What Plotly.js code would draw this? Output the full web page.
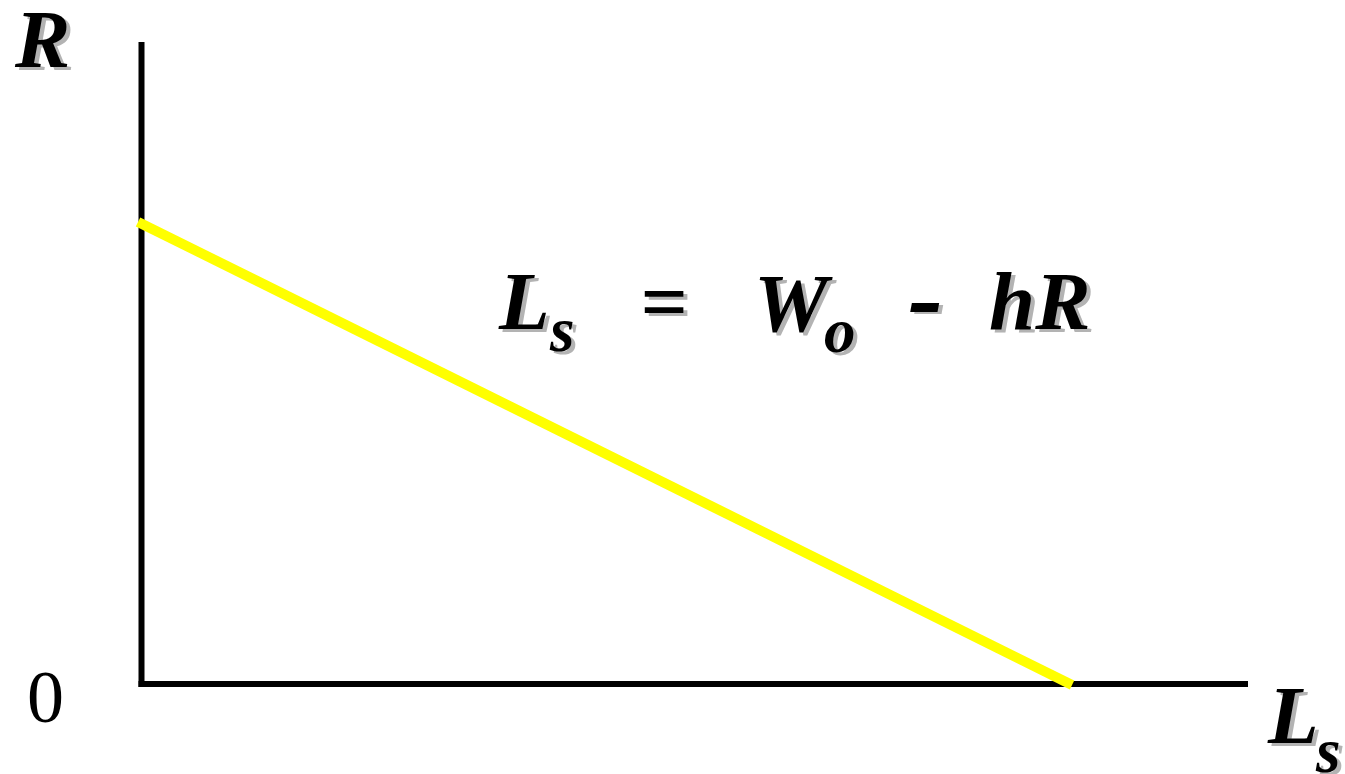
<!DOCTYPE html>
<html>
<head>
<meta charset="utf-8">
<script src="https://cdn.plot.ly/plotly-3.0.1.min.js"></script>
<style>html,body{margin:0;padding:0;background:#fff;}#chart{width:1345px;height:774px;}</style>
</head>
<body>
<div id="chart"></div>
<script>
// Supply line Ls = Wo - hR (schematic values)
const Wo = 100;
const h = 1;
const lsValues = [0, Wo];          // Ls along the line
const rValues = [Wo / h, 0];       // R along the line
const xRange = [-4.07, 122.8];     // axis extent for Ls
const yRange = [-6.26, 143.6];     // axis extent for R
const zeroLabel = "0";
const yAxisLabel = "R";
const xAxisMain = "L", xAxisSub = "s";
const eqPieces = ["L", "s", "=", "W", "o", "-", "hR"];

const W = 1345, H = 774;
const m = {l: 100, r: 60, t: 20, b: 60};
const pw = W - m.l - m.r, ph = H - m.t - m.b;
const px = x => (x - m.l) / pw;
const py = y => (H - m.b - y) / ph;

const FAM = "Liberation Serif, Times New Roman, serif";
const serifBI = (size, color) => ({family: FAM, size: size, color: color, weight: "bold", style: "italic"});
const shadowColor = "#b3b3b3";
const offX = 4, offY = 3;

function shadowed(text, x, y, size) {
  const base = {text: text, xref: "paper", yref: "paper", xanchor: "center", yanchor: "middle", showarrow: false};
  return [
    Object.assign({}, base, {x: px(x + offX), y: py(y + offY), font: serifBI(size, shadowColor)}),
    Object.assign({}, base, {x: px(x), y: py(y), font: serifBI(size, "#000")})
  ];
}

const F = 83, FS = 63;
const annotations = [].concat(
  shadowed(yAxisLabel, 42, 39, F),
  // equation
  shadowed(eqPieces[0], 524, 301, F),
  shadowed(eqPieces[1], 562, 330, FS),
  shadowed(eqPieces[2], 663, 301, F),
  shadowed(eqPieces[3], 793, 303, F),
  shadowed(eqPieces[4], 840, 331, FS),
  shadowed(eqPieces[5], 925, 296, 105),
  shadowed(eqPieces[6], 1040, 301, F),
  // x-axis label
  shadowed(xAxisMain, 1293, 715, F),
  shadowed(xAxisSub, 1328, 751, FS),
  [{text: zeroLabel, xref: "paper", yref: "paper", x: px(45.5), y: py(697), xanchor: "center", yanchor: "middle", showarrow: false,
    font: {family: FAM, size: 74, color: "#000"}}]
);

// axis lines (styling)
const axisLine = {color: "#000", width: 6};
const shapes = [
  {type: "line", xref: "paper", yref: "paper", x0: px(141.5), x1: px(141.5), y0: py(42), y1: py(687), line: axisLine, layer: "below"},
  {type: "line", xref: "paper", yref: "paper", x0: px(138.5), x1: px(1248), y0: py(684), y1: py(684), line: axisLine, layer: "below"}
];

const data = [{
  x: lsValues, y: rValues, type: "scatter", mode: "lines",
  line: {color: "#ffff00", width: 10}, cliponaxis: false, hoverinfo: "skip"
}];

const hiddenAxis = r => ({range: r, showgrid: false, zeroline: false, showticklabels: false, ticks: "",
                          showline: false, fixedrange: true});

const layout = {
  width: W, height: H, margin: m, showlegend: false,
  paper_bgcolor: "#fff", plot_bgcolor: "#fff",
  xaxis: hiddenAxis(xRange),
  yaxis: hiddenAxis(yRange),
  shapes: shapes,
  annotations: annotations
};

Plotly.newPlot("chart", data, layout, {displayModeBar: false, staticPlot: true});
</script>
</body>
</html>
